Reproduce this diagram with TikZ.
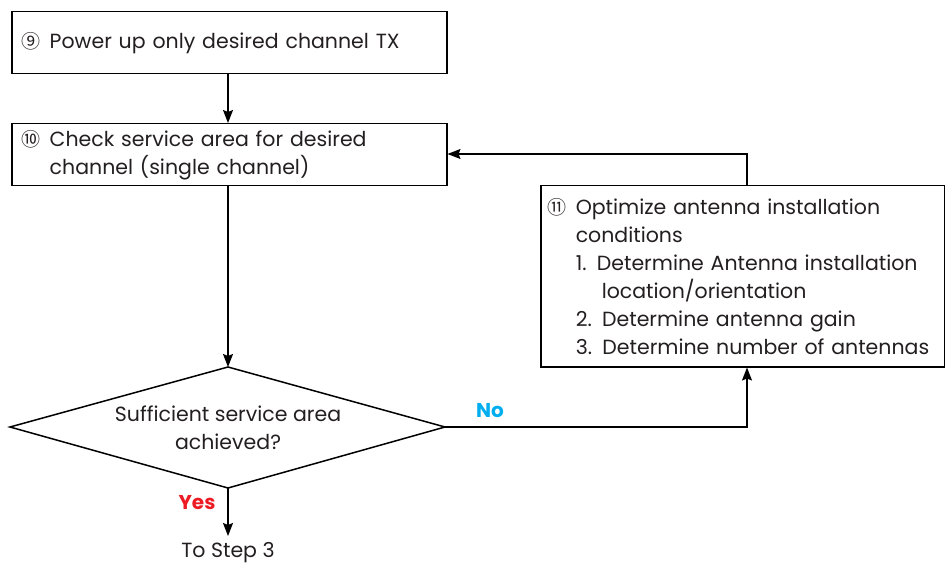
\documentclass[tikz,border=0pt]{standalone}
\usepackage{fontspec}
\setmainfont{Poppins}
\newfontfamily\circfont{Noto Sans CJK JP}
\usetikzlibrary{shapes.geometric,arrows.meta}
\definecolor{txt}{HTML}{231F20}
\definecolor{nocol}{HTML}{00AEEF}
\definecolor{yescol}{HTML}{ED1C24}
\tikzset{
  x=1pt,y=-1pt,
  lbl/.style={font=\fontsize{20.5}{28}\selectfont, text=txt},
  box/.style={draw, line width=1.5pt, anchor=north west, align=left, lbl},
  conn/.style={line width=1.5pt, -{Stealth[length=13pt,width=10pt,inset=2pt]}},
}
\newcommand{\cn}[1]{\makebox[28pt][l]{\circfont\fontsize{19}{19}\selectfont #1}}
\newcommand{\ind}{\hspace*{28pt}}
\begin{document}
\begin{tikzpicture}
\useasboundingbox (0,0) rectangle (945,569);
\node[box, minimum width=435, minimum height=62, text width=415, inner xsep=10pt] (b9) at (11,11)
  {\cn{⑨}Power up only desired channel TX};
\node[box, minimum width=435, minimum height=62, text width=415, inner xsep=10pt] (b10) at (11,123)
  {\cn{⑩}Check service area for desired\\\ind channel (single channel)};
\node[box, minimum width=404, minimum height=181, text width=390, inner xsep=7pt] (b11) at (540,185)
  {\cn{⑪}Optimize antenna installation\\
   \ind conditions\\
   \ind 1. Determine Antenna installation\\
   \ind\hspace*{26pt}location/orientation\\
   \ind 2. Determine antenna gain\\
   \ind 3. Determine number of antennas};
\coordinate (dn) at (228,367);
\coordinate (de) at (445,427);
\coordinate (ds) at (228,488);
\coordinate (dw) at (10,427);
\draw[line width=1.5pt] (dn) -- (de) -- (ds) -- (dw) -- cycle;
\node[lbl, align=center] (d) at (228,428) {Sufficient service area\\achieved?};
\node[lbl, anchor=center] (s3) at (228,553) {To Step 3};
\coordinate (yesend) at (228,536);
\coordinate (fb) at (747,154);
\coordinate (nocorner) at (747,427);

\draw[conn] (b9.south -| dn) -- (b10.north -| dn);
\draw[conn] (b10.south -| dn) -- (dn);
\draw[conn] (b11.north -| fb) -- (fb) -- (fb -| b10.east);
\draw[conn] (de) -- (nocorner) -- (nocorner |- b11.south);
\draw[conn] (ds) -- (yesend);
\node[font=\fontsize{20}{20}\selectfont\bfseries, text=nocol] (no) at (490,411) {No};
\node[font=\fontsize{20}{20}\selectfont\bfseries, text=yescol] (yes) at (197,503) {Yes};
\end{tikzpicture}
\end{document}
